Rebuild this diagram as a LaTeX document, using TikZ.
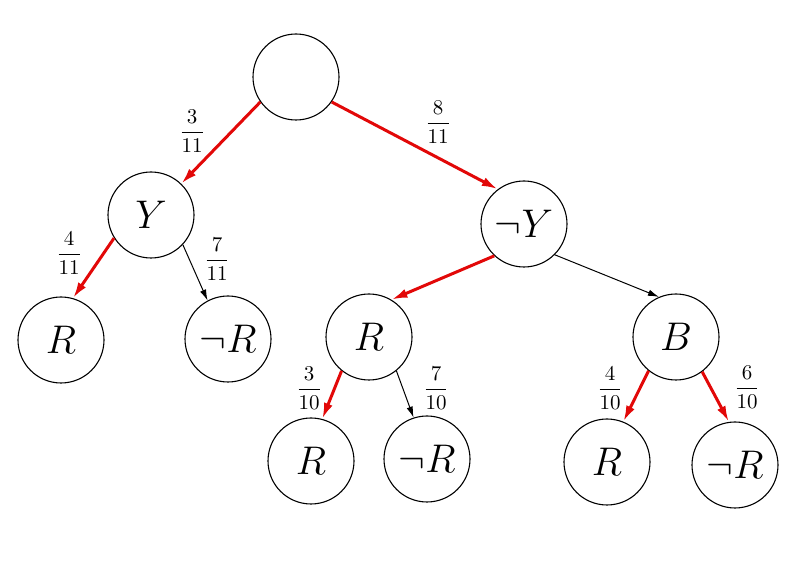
\RequirePackage{fix-cm}
\documentclass[tikz,border=0pt]{standalone}
\usepackage{amsmath}
\usetikzlibrary{arrows.meta}
\definecolor{edgered}{RGB}{226,8,8}
\begin{document}
\begin{tikzpicture}[x=0.5pt,y=-0.5pt,
  state/.style={circle,draw,line width=0.55pt,minimum size=43pt,inner sep=0pt,font=\fontsize{20}{24}\selectfont},
  redge/.style={draw=edgered,line width=1.5pt,-{Latex[length=8pt,width=4.6pt]}},
  bedge/.style={draw=black,line width=0.5pt,-{Latex[length=5.5pt,width=3.2pt]}},
  prob/.style={inner sep=0pt,font=\fontsize{10.5}{12}\selectfont}]
\useasboundingbox (0,0) rectangle (800,567);
% nodes
\node[state] (root) at (296,77) {};
\node[state] (y) at (151,215) {$Y$};
\node[state] (ny) at (524,224) {$\neg Y$};
\node[state] (r1) at (61,340) {$R$};
\node[state] (nr1) at (228,339) {$\neg R$};
\node[state] (r2) at (369,337) {$R$};
\node[state] (b) at (676,337) {$B$};
\node[state] (r3) at (311,461) {$R$};
\node[state] (nr3) at (427,459) {$\neg R$};
\node[state] (r4) at (607,462) {$R$};
\node[state] (nr4) at (735,465) {$\neg R$};
% edges
\draw[redge] (root.215) -- (y.46);
\draw[redge] (root.325) -- (ny.127);
\draw[redge] (y.212) -- (r1.74);
\draw[bedge] (y.317) -- (nr1.118);
\draw[redge] (ny.227) -- (r2.59);
\draw[bedge] (ny.315) -- (b.113);
\draw[redge] (r2.231) -- (r3.75);
\draw[bedge] (r2.309) -- (nr3.108);
\draw[redge] (b.231) -- (r4.68);
\draw[redge] (b.307) -- (nr4.98);
% probabilities
\node[prob] (p1) at (192,131) {$\dfrac{3}{11}$};
\node[prob] (p2) at (438,122) {$\dfrac{8}{11}$};
\node[prob] (p3) at (69,253) {$\dfrac{4}{11}$};
\node[prob] (p4) at (217,259) {$\dfrac{7}{11}$};
\node[prob] (p5) at (309,388) {$\dfrac{3}{10}$};
\node[prob] (p6) at (436,388) {$\dfrac{7}{10}$};
\node[prob] (p7) at (610,388) {$\dfrac{4}{10}$};
\node[prob] (p8) at (747,387) {$\dfrac{6}{10}$};
\end{tikzpicture}
\end{document}
